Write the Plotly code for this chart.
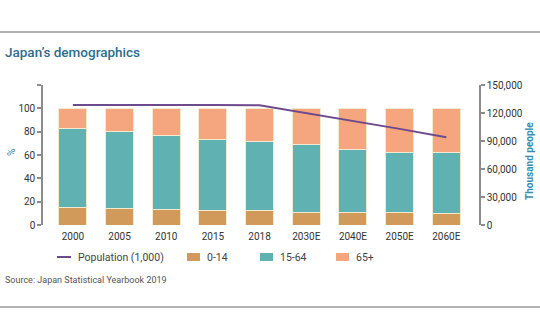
import plotly.graph_objects as go

# Age structure of Japan's population (% of total) and total population (thousand)
years = ["2000", "2005", "2010", "2015", "2018", "2030E", "2040E", "2050E", "2060E"]
age_0_14 = [14.6, 13.8, 13.2, 12.6, 12.2, 11.1, 10.8, 10.6, 10.2]
age_15_64 = [68.1, 66.1, 63.8, 60.8, 59.7, 57.7, 53.9, 51.8, 51.6]
age_65_plus = [17.3, 20.1, 23.0, 26.6, 28.1, 31.2, 35.3, 37.6, 38.2]
population = [128500, 128800, 129000, 128600, 128300, 120000, 111500, 103000, 94000]

left_ticks = [0, 20, 40, 60, 80, 100, 120]
left_labels = ["0", "20", "40", "60", "80", "100", ""]
right_ticks = [0, 30000, 60000, 90000, 120000, 150000]

FONT = "Roboto, sans-serif"
C_CHILD = "#D29A5A"
C_WORK = "#5FB2B1"
C_OLD = "#F6A67E"
C_LINE = "#6D4A8C"
C_SEP = "#F3EBCF"
AXIS_GREY = "#8C8C8C"
TEAL_TEXT = "#3A8DAA"

# plot area geometry in pixels (used to place paper-space decorations)
W, H = 540, 334
L, R, T, B = 43, 61, 85, 109
PW, PH = W - L - R, H - T - B


def px(x):
    return (x - L) / PW


def py(y):
    return (H - B - y) / PH


fig = go.Figure()

fig.add_trace(go.Scatter(
    x=years, y=population, name="Population (1,000)", mode="lines",
    line=dict(color=C_LINE, width=2), yaxis="y2",
))
series = [("0-14", age_0_14, C_CHILD),
          ("15-64", age_15_64, C_WORK),
          ("65+", age_65_plus, C_OLD)]
for name, vals, col in series:
    fig.add_trace(go.Bar(
        x=years, y=vals, name=name,
        marker=dict(color=col, line=dict(color=C_SEP, width=1)),
        width=0.6,
    ))

tick_font = dict(family=FONT, size=10, color="#333333")
fig.update_layout(
    width=W, height=H,
    margin=dict(l=L, r=R, t=T, b=B),
    paper_bgcolor="white", plot_bgcolor="white",
    barmode="stack",
    font=dict(family=FONT, size=10, color="#333333"),
    showlegend=False,
    xaxis=dict(
        type="category", range=[-0.64, 8.7], showline=False, ticks="",
        showgrid=False, tickfont=tick_font, automargin=False,
        ticklabelstandoff=4,
    ),
    yaxis=dict(
        range=[0, 120], tickvals=left_ticks, ticktext=left_labels,
        showline=True, linecolor=AXIS_GREY, linewidth=1.5,
        ticks="outside", ticklen=4, tickcolor=AXIS_GREY, tickwidth=1.5,
        showgrid=False, zeroline=False, tickfont=tick_font, automargin=False,
    ),
    yaxis2=dict(
        range=[0, 150000], tickvals=right_ticks, tickformat=",",
        overlaying="y", side="right",
        showline=True, linecolor=AXIS_GREY, linewidth=1.5,
        ticks="outside", ticklen=4, tickcolor=AXIS_GREY, tickwidth=1.5,
        showgrid=False, zeroline=False, tickfont=tick_font, automargin=False,
    ),
    title=dict(
        text="Japan\u2019s demographics", x=5 / W, xanchor="left",
        y=1 - 52 / H, yanchor="middle",
        font=dict(family=FONT, size=13.5, color="#2A6E8C", weight=500),
    ),
)

# Axis titles
fig.add_annotation(text="%", xref="paper", yref="paper", x=px(11), y=py(153),
                   xanchor="center", yanchor="middle",
                   textangle=-90, showarrow=False,
                   font=dict(family=FONT, size=10, color=TEAL_TEXT))
fig.add_annotation(text="<b>Thousand people</b>", xref="paper", yref="paper",
                   x=px(529), y=py(161), xanchor="center", yanchor="middle",
                   textangle=-90, showarrow=False,
                   font=dict(family=FONT, size=10, color=TEAL_TEXT))

# Legend row
leg_y = 257
fig.add_shape(type="line", xref="paper", yref="paper",
              x0=px(57), x1=px(71), y0=py(leg_y), y1=py(leg_y),
              line=dict(color=C_LINE, width=2))
fig.add_annotation(text="Population (1,000)", xref="paper", yref="paper",
                   x=px(76), y=py(leg_y), xanchor="left", yanchor="middle",
                   showarrow=False, font=dict(family=FONT, size=10.5, color="#444444"))
for (name, _, col), sx in zip(series, [187, 260, 336]):
    fig.add_shape(type="rect", xref="paper", yref="paper",
                  x0=px(sx), x1=px(sx + 13), y0=py(leg_y - 4), y1=py(leg_y + 4),
                  fillcolor=col, line=dict(width=0))
    fig.add_annotation(text=name, xref="paper", yref="paper",
                       x=px(sx + 18), y=py(leg_y), xanchor="left", yanchor="middle",
                       showarrow=False, font=dict(family=FONT, size=10.5, color="#444444"))

# Horizontal rules framing the exhibit
for yy in [32, 307]:
    fig.add_shape(type="line", xref="paper", yref="paper",
                  x0=px(0), x1=px(W), y0=py(yy), y1=py(yy),
                  line=dict(color="#9A9A9A", width=1.5))

fig.add_annotation(
    text="Source: Japan Statistical Yearbook 2019", xref="paper", yref="paper",
    x=px(3), y=py(280), xanchor="left", yanchor="middle", showarrow=False,
    font=dict(family=FONT, size=9, color="#555555"),
)

fig.write_html("out.html")
